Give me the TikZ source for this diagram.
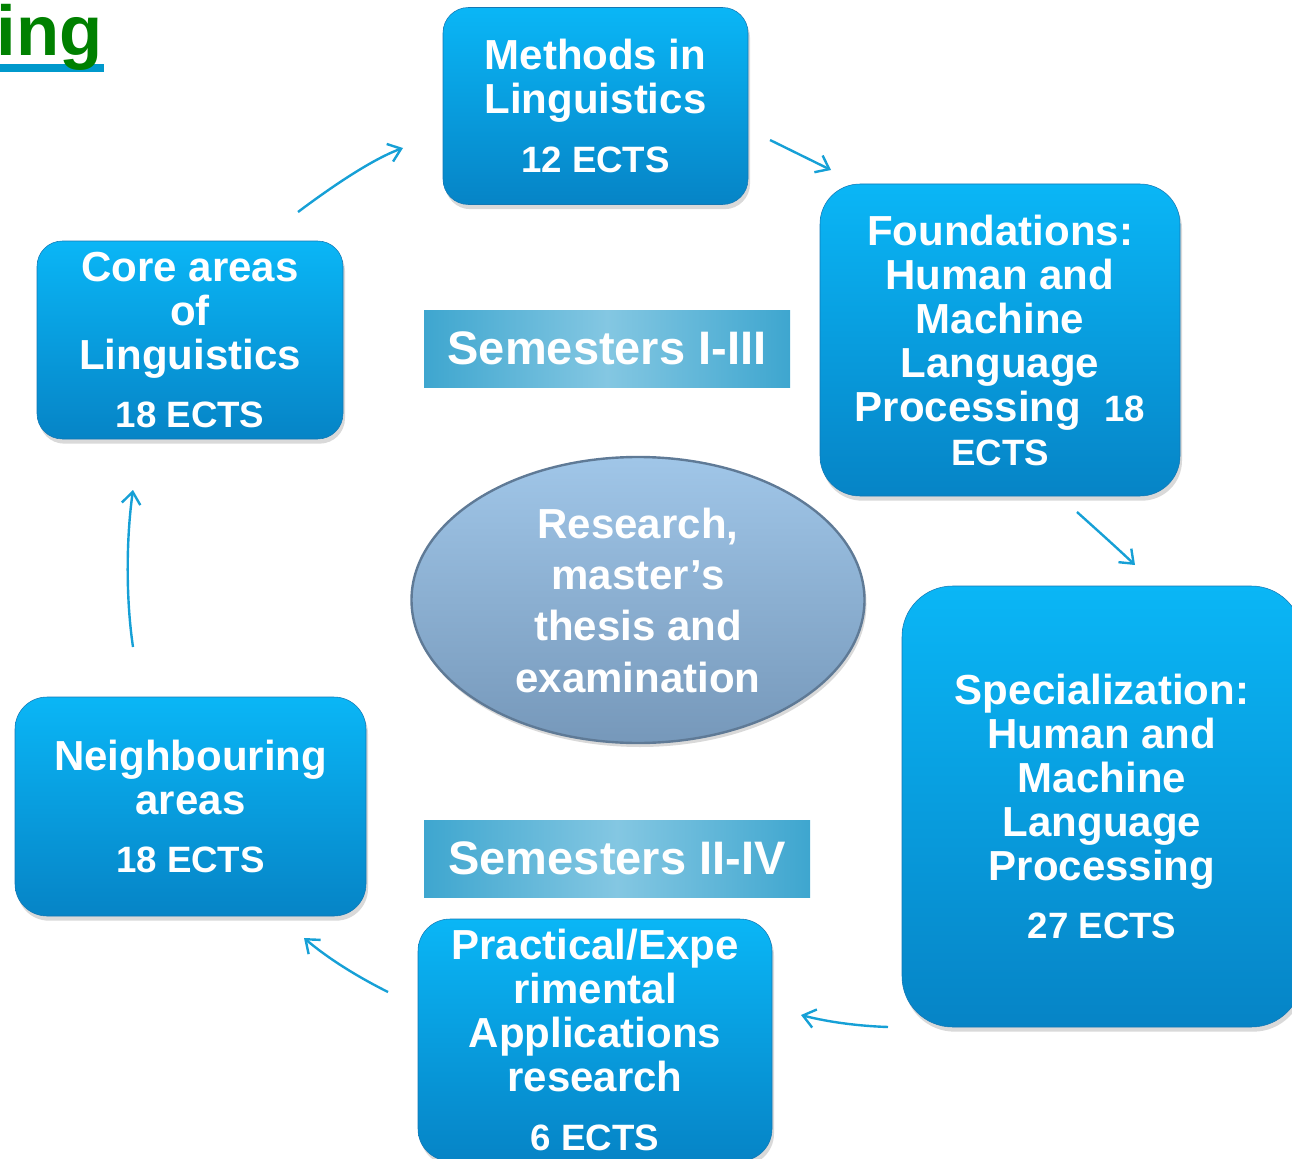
\documentclass[tikz,border=0pt]{standalone}
\usepackage{fontspec}
\setmainfont{Liberation Sans}
\usetikzlibrary{shapes.geometric,shadows,arrows.meta}
\definecolor{boxtop}{RGB}{10,182,246}
\definecolor{boxbot}{RGB}{6,132,198}
\definecolor{boxedge}{RGB}{20,120,180}
\definecolor{arrowc}{RGB}{22,160,214}
\definecolor{semedge}{RGB}{62,166,207}
\definecolor{semmid}{RGB}{132,199,226}
\definecolor{elltop}{RGB}{160,198,232}
\definecolor{ellbot}{RGB}{118,152,186}
\definecolor{elledge}{RGB}{95,122,150}
\definecolor{titlegreen}{RGB}{0,128,0}
\definecolor{ulblue}{RGB}{0,153,204}
\newcommand\mainsz{\fontsize{31.5}{33}\selectfont\bfseries}
\newcommand\ectssz{\fontsize{27.5}{33}\selectfont}
\begin{document}
\begin{tikzpicture}[x=0.75pt,y=-0.75pt,
  box/.style={rectangle, rounded corners=#1, top color=boxtop, bottom color=boxbot,
    draw=boxedge, line width=0.4pt, text=white, align=center, inner sep=0pt, font=\mainsz,
    drop shadow={shadow xshift=1.5pt, shadow yshift=-3.5pt, opacity=0.3}},
  box/.default=19pt,
  sem/.style={rectangle, left color=semedge, right color=semedge, middle color=semmid,
    text=white, inner sep=0pt, minimum height=57.75pt, font=\fontsize{35.25}{38}\selectfont\bfseries},
  ell/.style={ellipse, top color=elltop, bottom color=ellbot, draw=elledge, line width=1.8pt,
    text=white, align=center, inner sep=0pt, font=\fontsize{31.5}{38.5}\selectfont\bfseries,
    drop shadow={shadow xshift=1.5pt, shadow yshift=-3pt, opacity=0.3}},
  flow/.style={draw=arrowc, line width=1.8pt, -{Straight Barb[length=9pt,width=14pt]}}
]
\useasboundingbox (0,0) rectangle (1292,1159);

% title fragment
\fill[ulblue] (-5,64) rectangle (104,72);
\node[anchor=base east, inner sep=0pt, text=titlegreen, font=\fontsize{53}{54}\selectfont\bfseries] (title) at (103,56) {ing};

% boxes
\node[box, minimum width=228.75pt, minimum height=147.75pt] (methods) at (595.5,106)
  {Methods in\\Linguistics\\[11pt]{\ectssz 12 ECTS}};
\node[box=30pt, minimum width=270pt, minimum height=234pt] (found) at (1000,340)
  {Foundations:\\Human and\\Machine\\Language\\Processing\ \ {\ectssz 18}\\{\ectssz ECTS}};
\node[box=38pt, minimum width=300pt, minimum height=330.75pt] (spec) at (1102,806.5)
  {Specialization:\\Human and\\Machine\\Language\\Processing\\[10.5pt]{\ectssz 27 ECTS}};
\node[box=24pt, minimum width=265.5pt, minimum height=181.5pt] (pract) at (595,1040)
  {Practical/Expe\\rimental\\Applications\\research\\[11pt]{\ectssz 6 ECTS}};
\node[box=24pt, minimum width=263.25pt, minimum height=164.25pt] (neigh) at (190.5,806.5)
  {Neighbouring\\areas\\[11pt]{\ectssz 18 ECTS}};
\node[box, minimum width=229.5pt, minimum height=148.5pt] (core) at (190,340)
  {Core areas\\of\\Linguistics\\[11pt]{\ectssz 18 ECTS}};

% centre ellipse
\node[ell, minimum width=339.75pt, minimum height=214.5pt] (research) at (638,600)
  {Research,\\master’s\\thesis and\\examination};

% semester labels
\node[sem, minimum width=274.5pt] (sem1) at (607,348.5) {Semesters I-III};
\node[sem, minimum width=289.5pt] (sem2) at (617,858.5) {Semesters II-IV};

% arrow end points
\coordinate (a1s) at (298,212); \coordinate (a1e) at (403,148);
\coordinate (a2s) at (770,140); \coordinate (a2e) at (831,170);
\coordinate (a3s) at (1077,512); \coordinate (a3e) at (1135,565);
\coordinate (a4s) at (888,1027); \coordinate (a4e) at (801,1015);
\coordinate (a5s) at (388,992); \coordinate (a5e) at (304,938);
\coordinate (a6s) at (133,647); \coordinate (a6e) at (133,490);

\draw[flow] (a1s) .. controls (326,191) and (370,160) .. (a1e);
\draw[flow] (a2s) -- (a2e);
\draw[flow] (a3s) .. controls (1097,530) and (1116,547) .. (a3e);
\draw[flow] (a4s) .. controls (858,1026) and (828,1022) .. (a4e);
\draw[flow] (a5s) .. controls (360,978) and (330,960) .. (a5e);
\draw[flow] (a6s) .. controls (126,600) and (126,540) .. (a6e);
\end{tikzpicture}
\end{document}
